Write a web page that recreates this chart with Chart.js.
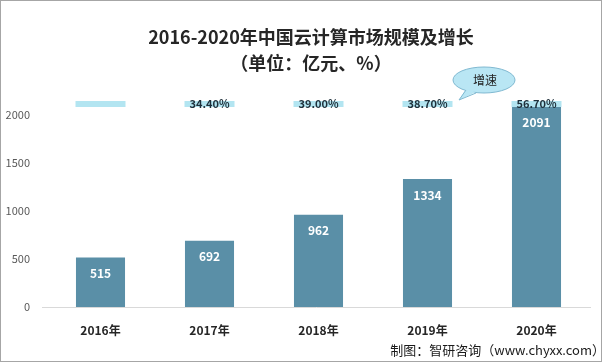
<!DOCTYPE html>
<html>
<head>
<meta charset="utf-8">
<script src="https://cdn.jsdelivr.net/npm/chart.js@4"></script>
<style>
    html, body { margin: 0; padding: 0; background: #fff; }
    #wrap { width: 604px; height: 362px; position: relative; }
</style>
</head>
<body>
<div id="wrap"><canvas id="marketChart" width="604" height="362"></canvas></div>
<script>
// Chart data
const years = ['2016年', '2017年', '2018年', '2019年', '2020年'];
const marketSize = [515, 692, 962, 1334, 2091];
const growthRate = [null, '34.40%', '39.00%', '38.70%', '56.70%'];
const yTicks = [0, 500, 1000, 1500, 2000];

const CJK = '"Noto Sans CJK SC", "Noto Sans", sans-serif';

// Draws the title, growth strip, value labels, callout and footer
const decorPlugin = {
    id: 'decor',
    afterDatasetsDraw(chart) {
        const ctx = chart.ctx;
        const xScale = chart.scales.x;
        ctx.save();

        // zero line, a bit wider than the plot area
        ctx.strokeStyle = '#d9d9d9';
        ctx.lineWidth = 1;
        ctx.beginPath();
        ctx.moveTo(42, chart.chartArea.bottom + 0.5);
        ctx.lineTo(chart.chartArea.right, chart.chartArea.bottom + 0.5);
        ctx.stroke();

        // value labels inside bars
        const meta = chart.getDatasetMeta(0);
        ctx.fillStyle = '#ffffff';
        ctx.font = 'bold 12px ' + CJK;
        ctx.textAlign = 'center';
        ctx.textBaseline = 'middle';
        meta.data.forEach((bar, i) => {
            ctx.fillText(String(marketSize[i]), bar.x, bar.y + 16);
        });

        // growth labels across the top
        growthRate.forEach((g, i) => {
            const x = xScale.getPixelForValue(i);
            ctx.fillStyle = '#b3e5f1';
            ctx.fillRect(x - 25, 101, 50, 6);
            if (g) {
                ctx.fillStyle = '#1e2f3a';
                ctx.font = 'bold 11px ' + CJK;
                ctx.fillText(g, x, 104);
            }
        });

        // callout bubble
        ctx.beginPath();
        ctx.ellipse(484, 80, 31, 13, 0, 0, Math.PI * 2);
        ctx.fillStyle = '#b9e6f4';
        ctx.fill();
        ctx.strokeStyle = '#7fb8d0';
        ctx.lineWidth = 1;
        ctx.stroke();
        ctx.beginPath();
        ctx.moveTo(466, 89);
        ctx.lineTo(459, 100);
        ctx.lineTo(476, 92);
        ctx.closePath();
        ctx.fillStyle = '#b9e6f4';
        ctx.fill();
        ctx.beginPath();
        ctx.moveTo(466, 90);
        ctx.lineTo(459, 100);
        ctx.lineTo(476, 93);
        ctx.stroke();
        ctx.fillStyle = '#222222';
        ctx.font = '12px ' + CJK;
        ctx.fillText('增速', 485, 80);

        // title
        ctx.fillStyle = '#262626';
        ctx.font = 'bold 18px ' + CJK;
        ctx.fillText('2016-2020年中国云计算市场规模及增长', 311, 37);
        ctx.fillText('（单位：亿元、%）', 311, 63);

        // footer
        ctx.font = '13px ' + CJK;
        ctx.textAlign = 'right';
        ctx.fillStyle = '#1a1a1a';
        ctx.fillText('制图：智研咨询（www.chyxx.com）', 605, 350);

        // outer border
        ctx.strokeStyle = '#a6a6a6';
        ctx.strokeRect(0.5, 0.5, 601, 361);
        ctx.restore();
    }
};

const ctx = document.getElementById('marketChart');
new Chart(ctx, {
    type: 'bar',
    data: {
        labels: years,
        datasets: [{
            label: '市场规模',
            data: marketSize,
            backgroundColor: '#5a8fa7',
            barPercentage: 0.9,
            categoryPercentage: 0.5
        }]
    },
    options: {
        responsive: false,
        animation: false,
        layout: { padding: { top: 96, right: 13, bottom: 0, left: 0 } },
        plugins: {
            legend: { display: false },
            tooltip: { enabled: false }
        },
        scales: {
            x: {
                grid: { display: false },
                border: { display: false },
                ticks: {
                    color: '#262626',
                    font: { family: CJK, size: 12, weight: 'bold' },
                    padding: 8
                },
                afterFit: (scale) => { scale.height = 55; }
            },
            y: {
                min: 0,
                max: 2200,
                grid: { display: false },
                border: { display: false },
                ticks: {
                    stepSize: 500,
                    color: '#595959',
                    font: { family: CJK, size: 11 },
                    padding: 8,
                    callback: (v) => String(v)
                },
                afterBuildTicks: (scale) => {
                    scale.ticks = yTicks.map(v => ({ value: v }));
                },
                afterFit: (scale) => { scale.width = 46; }
            }
        }
    },
    plugins: [decorPlugin]
});
</script>
</body>
</html>
